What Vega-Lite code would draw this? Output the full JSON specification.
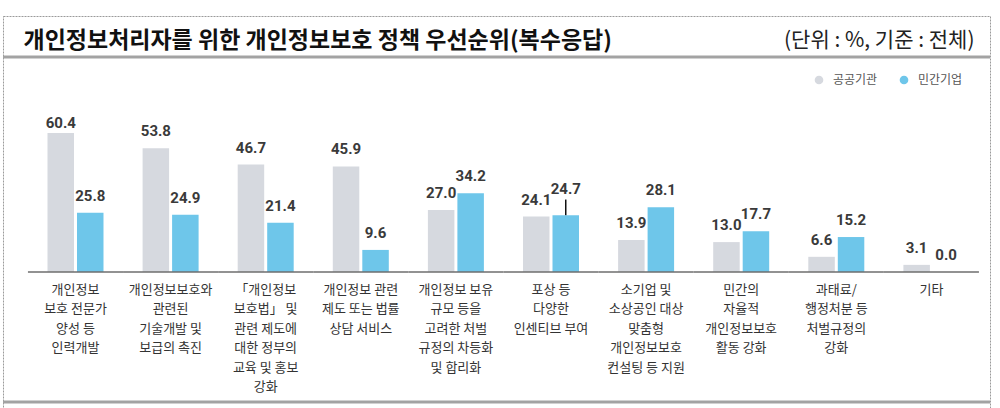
{
  "$schema": "https://vega.github.io/schema/vega-lite/v6.json",
  "width": 987,
  "height": 392,
  "autosize": {"type": "none"},
  "padding": {"left": 3, "top": 16, "right": 10, "bottom": 0},
  "background": "white",
  "config": {
    "view": {"stroke": "#9a9a9a", "strokeDash": [2, 1], "strokeWidth": 1},
    "font": "Noto Sans CJK KR"
  },
  "data": {
    "values": [
      {"category": "개인정보|보호 전문가|양성 등|인력개발", "group": "공공기관", "value": 60.4},
      {"category": "개인정보|보호 전문가|양성 등|인력개발", "group": "민간기업", "value": 25.8},
      {"category": "개인정보보호와|관련된|기술개발 및|보급의 촉진", "group": "공공기관", "value": 53.8},
      {"category": "개인정보보호와|관련된|기술개발 및|보급의 촉진", "group": "민간기업", "value": 24.9},
      {"category": "「개인정보|보호법」 및|관련 제도에|대한 정부의|교육 및 홍보|강화", "group": "공공기관", "value": 46.7},
      {"category": "「개인정보|보호법」 및|관련 제도에|대한 정부의|교육 및 홍보|강화", "group": "민간기업", "value": 21.4},
      {"category": "개인정보 관련|제도 또는 법률|상담 서비스", "group": "공공기관", "value": 45.9},
      {"category": "개인정보 관련|제도 또는 법률|상담 서비스", "group": "민간기업", "value": 9.6},
      {"category": "개인정보 보유|규모 등을|고려한 처벌|규정의 차등화|및 합리화", "group": "공공기관", "value": 27.0},
      {"category": "개인정보 보유|규모 등을|고려한 처벌|규정의 차등화|및 합리화", "group": "민간기업", "value": 34.2},
      {"category": "포상 등|다양한|인센티브 부여", "group": "공공기관", "value": 24.1},
      {"category": "포상 등|다양한|인센티브 부여", "group": "민간기업", "value": 24.7},
      {"category": "소기업 및|소상공인 대상|맞춤형|개인정보보호|컨설팅 등 지원", "group": "공공기관", "value": 13.9},
      {"category": "소기업 및|소상공인 대상|맞춤형|개인정보보호|컨설팅 등 지원", "group": "민간기업", "value": 28.1},
      {"category": "민간의|자율적|개인정보보호|활동 강화", "group": "공공기관", "value": 13.0},
      {"category": "민간의|자율적|개인정보보호|활동 강화", "group": "민간기업", "value": 17.7},
      {"category": "과태료/|행정처분 등|처벌규정의|강화", "group": "공공기관", "value": 6.6},
      {"category": "과태료/|행정처분 등|처벌규정의|강화", "group": "민간기업", "value": 15.2},
      {"category": "기타", "group": "공공기관", "value": 3.1},
      {"category": "기타", "group": "민간기업", "value": 0.0}
    ]
  },
  "layer": [
    {
      "data": {"values": [{}]},
      "mark": {"type": "rule", "color": "#a3a3a3", "strokeWidth": 3},
      "encoding": {
        "y": {"datum": 93.48, "type": "quantitative", "scale": {"domain": [-59.13, 111.3], "nice": false, "zero": false}, "axis": null}
      }
    },
    {
      "data": {"values": [{}]},
      "mark": {"type": "rule", "color": "#a3a3a3", "strokeWidth": 3},
      "encoding": {
        "y": {"datum": -56.52, "type": "quantitative", "scale": {"domain": [-59.13, 111.3], "nice": false, "zero": false}, "axis": null}
      }
    },
    {
      "mark": {"type": "bar"},
      "encoding": {
        "x": {
          "field": "category", "type": "nominal",
          "scale": {
            "domain": ["개인정보|보호 전문가|양성 등|인력개발", "개인정보보호와|관련된|기술개발 및|보급의 촉진", "「개인정보|보호법」 및|관련 제도에|대한 정부의|교육 및 홍보|강화", "개인정보 관련|제도 또는 법률|상담 서비스", "개인정보 보유|규모 등을|고려한 처벌|규정의 차등화|및 합리화", "포상 등|다양한|인센티브 부여", "소기업 및|소상공인 대상|맞춤형|개인정보보호|컨설팅 등 지원", "민간의|자율적|개인정보보호|활동 강화", "과태료/|행정처분 등|처벌규정의|강화", "기타"],
            "paddingInner": 0, "paddingOuter": 0.18927, "align": 0.693
          },
          "axis": {
            "orient": "bottom", "offset": -136, "domain": false, "ticks": false, "title": null,
            "labelExpr": "split(datum.label, '|')", "labelFontSize": 13, "labelColor": "#333333",
            "labelPadding": 11, "labelLineHeight": 19.5, "labelOverlap": false, "labelBound": false,
            "labelLimit": 0, "labelAngle": 0, "labelFont": "Noto Sans CJK KR"
          }
        },
        "xOffset": {"field": "group", "type": "nominal", "scale": {"domain": ["공공기관", "민간기업"], "paddingInner": 0.1017, "paddingOuter": 0.6627}},
        "y": {
          "field": "value", "type": "quantitative",
          "scale": {"domain": [-59.13, 111.3], "nice": false, "zero": false},
          "axis": {
            "orient": "left", "domain": false, "ticks": false, "labels": false, "grid": false,
            "title": "개인정보처리자를 위한 개인정보보호 정책 우선순위(복수응답)",
            "titleX": 20, "titleY": 24, "titleAngle": 0, "titleAlign": "left", "titleBaseline": "middle",
            "titleFontSize": 23, "titleFontWeight": "bold", "titleColor": "#111111", "titleFont": "Noto Sans CJK KR"
          }
        },
        "y2": {"datum": 0},
        "color": {
          "field": "group", "type": "nominal",
          "scale": {"domain": ["공공기관", "민간기업"], "range": ["#d6d9df", "#6ec6ea"]},
          "legend": {
            "orient": "none", "legendX": 810, "legendY": 58, "direction": "horizontal", "title": null,
            "symbolType": "circle", "symbolSize": 75, "symbolStrokeWidth": 0,
            "labelFontSize": 12, "labelColor": "#555555", "labelFont": "Noto Sans CJK KR",
            "columnPadding": 20, "labelOffset": 8, "padding": 0
          }
        }
      }
    },
    {
      "transform": [{"filter": "datum.group === '공공기관'"}],
      "mark": {"type": "bar", "color": "#6e6e6e"},
      "encoding": {
        "x": {"field": "category", "type": "nominal", "axis": null},
        "y": {"datum": 0.33, "type": "quantitative", "scale": {"domain": [-59.13, 111.3], "nice": false, "zero": false}, "axis": null},
        "y2": {"datum": -0.33}
      }
    },
    {
      "transform": [{"filter": "datum.value === 24.7"}],
      "mark": {"type": "rule", "color": "#111111", "strokeWidth": 1.5},
      "encoding": {
        "x": {"field": "category", "type": "nominal", "axis": null},
        "xOffset": {"field": "group", "type": "nominal"},
        "y": {"field": "value", "type": "quantitative", "scale": {"domain": [-59.13, 111.3], "nice": false, "zero": false}, "axis": null},
        "y2": {"datum": 31.5}
      }
    },
    {
      "transform": [{"filter": "datum.value !== 24.7 && datum.value !== 60.4"}],
      "mark": {"type": "text", "dy": -17, "baseline": "middle", "font": "Roboto", "fontSize": 15, "fontWeight": "bold", "color": "#3a3a3a"},
      "encoding": {
        "x": {"field": "category", "type": "nominal", "axis": null},
        "xOffset": {"field": "group", "type": "nominal"},
        "y": {
          "field": "value", "type": "quantitative",
          "scale": {"domain": [-59.13, 111.3], "nice": false, "zero": false},
          "axis": {
            "orient": "right", "domain": false, "ticks": false, "labels": false, "grid": false,
            "title": "(단위 : %, 기준 : 전체)",
            "titleX": -16, "titleY": 24, "titleAngle": 0, "titleAlign": "right", "titleBaseline": "middle",
            "titleFontSize": 21, "titleFontWeight": "normal", "titleColor": "#222222", "titleFont": "Noto Sans CJK KR"
          }
        },
        "text": {"field": "value", "type": "quantitative", "format": ".1f"}
      }
    },
    {
      "transform": [{"filter": "datum.value === 24.7"}],
      "mark": {"type": "text", "dy": -26, "baseline": "middle", "font": "Roboto", "fontSize": 15, "fontWeight": "bold", "color": "#3a3a3a"},
      "encoding": {
        "x": {"field": "category", "type": "nominal", "axis": null},
        "xOffset": {"field": "group", "type": "nominal"},
        "y": {"field": "value", "type": "quantitative", "scale": {"domain": [-59.13, 111.3], "nice": false, "zero": false}, "axis": null},
        "text": {"field": "value", "type": "quantitative", "format": ".1f"}
      }
    },
    {
      "transform": [{"filter": "datum.value === 60.4"}],
      "mark": {"type": "text", "dy": -10, "baseline": "middle", "font": "Roboto", "fontSize": 15, "fontWeight": "bold", "color": "#3a3a3a"},
      "encoding": {
        "x": {"field": "category", "type": "nominal", "axis": null},
        "xOffset": {"field": "group", "type": "nominal"},
        "y": {"field": "value", "type": "quantitative", "scale": {"domain": [-59.13, 111.3], "nice": false, "zero": false}, "axis": null},
        "text": {"field": "value", "type": "quantitative", "format": ".1f"}
      }
    }
  ],
  "resolve": {"axis": {"x": "independent", "y": "independent"}}
}
